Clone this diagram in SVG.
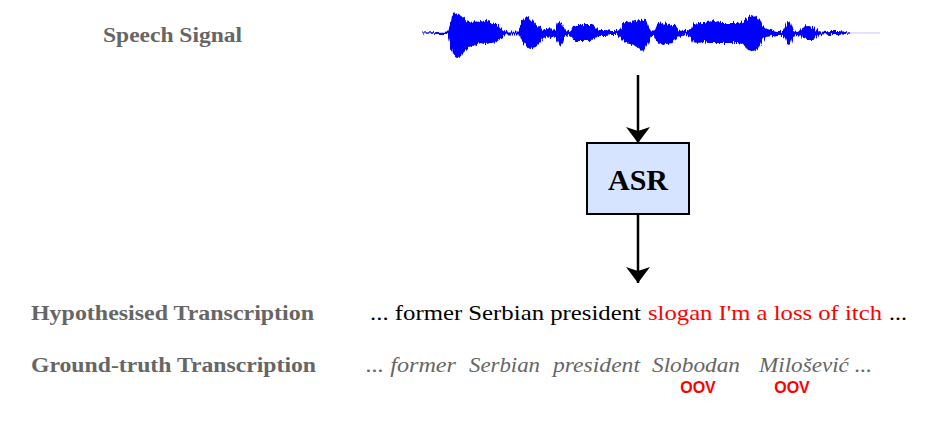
<svg xmlns="http://www.w3.org/2000/svg" width="933" height="432" viewBox="0 0 933 432">
  <defs>
    <marker id="arrowhead" viewBox="0 0 16 24" refX="16" refY="12" markerWidth="16" markerHeight="24" markerUnits="userSpaceOnUse" orient="auto">
      <path d="M0,0 L16,12 L0,24 L4,12 Z" fill="#000"/>
    </marker>
    <!-- roughen the waveform envelope into fine spikes -->
    <filter id="jagged" x="-5%" y="-40%" width="110%" height="180%">
      <feTurbulence type="fractalNoise" baseFrequency="0.9 0.02" numOctaves="2" seed="3" result="noise"/>
      <feDisplacementMap in="SourceGraphic" in2="noise" scale="6" xChannelSelector="R" yChannelSelector="G"/>
    </filter>
  </defs>
  <style>
    .label { font-family: "Liberation Serif", "DejaVu Serif", serif; font-weight: bold; font-size: 20px; fill: #666; }
    .oov { font-family: "Liberation Sans", "DejaVu Sans", sans-serif; font-weight: bold; font-size: 16px; fill: #ff0000; text-anchor: middle; }
    .edge { stroke: #000; stroke-width: 2.5; fill: none; }
  </style>
  <rect width="933" height="432" fill="#fff"/>

  <g id="speech-signal">
    <text class="label" x="103" y="42" textLength="139" lengthAdjust="spacingAndGlyphs">Speech Signal</text>
    <line x1="422" y1="33" x2="880" y2="33" stroke="#d8d8ff" stroke-width="1.5"/>
    <polygon fill="#0000ff" filter="url(#jagged)" points="422,32.5 440,32 448,31.5 450,26 452,15 455,13 458,14 461,17 463,16 466,20 469,21 472,22 475,20 478,23 481,21 484,22 487,20 490,21 493,23 496,24 499,26 502,29 505,31.5 518,31.5 520,28 522,22 525,18 527,16 530,18 533,21 536,25 540,27 543,29 547,29 551,28 553,30 556,29 558,23 560,22 562,24 564,30 568,31 571,30 573,26 577,25 584,25 591,25 595,27 598,30 601,30 606,30 611,31 616,31 620,29 622,25 625,23 630,22 636,21 640,20 643,19 646,21 648,27 651,31 654,30 656,25 658,22 662,23 667,24 672,25 676,26 678,29 682,31 686,31 688,30 691,29 693,24 698,23 703,23 708,22 713,21 716,21 720,23 726,23 732,23 738,23 742,22 745,20 748,17 752,15 755,16 758,18 761,21 763,26 766,29 772,30 778,31 783,31 785,27 787,22 789,21 791,24 793,30 797,31 802,29 804,27 808,26 812,27 816,28 818,31 825,32 828,31 832,31 840,31 845,32 850,32.5 850,33.5 845,34 840,35 832,35 828,35 825,34 818,35 816,38 812,40 808,40 804,39 802,37 797,35 793,36 791,43 789,45 787,44 785,38 783,35 778,35 772,36 766,37 763,40 761,44 758,48 755,52 752,51 748,50 745,45 742,44 738,43 732,43 726,43 720,43 716,43 713,43 708,43 703,42 698,43 693,42 691,37 688,36 686,35 682,36 678,37 676,40 672,43 667,44 662,45 658,43 656,40 654,36 651,36 648,43 646,47 643,52 640,49 636,46 630,44 625,43 622,40 620,37 616,35 611,35 606,36 601,36 598,36 595,39 591,41 584,41 577,41 573,40 571,36 568,35 564,37 562,43 560,46 558,43 556,38 553,36 551,38 547,37 543,38 540,42 536,46 533,48 530,49 527,47 525,45 522,41 520,38 518,34.5 505,34.5 502,38 499,40 496,42 493,43 490,43 487,44 484,44 481,43 478,44 475,45 472,46 469,47 466,50 463,53 461,56 458,58 455,57 452,53 450,42 448,34 440,34 422,33.5"/>
  </g>

  <g id="connectors">
    <line class="edge" x1="638" y1="75" x2="638" y2="143" marker-end="url(#arrowhead)"/>
    <line class="edge" x1="638" y1="214" x2="638" y2="283" marker-end="url(#arrowhead)"/>
  </g>

  <g id="asr">
    <rect x="587" y="143" width="102" height="71" fill="#d6e4ff" stroke="#000" stroke-width="2"/>
    <text x="638" y="190" text-anchor="middle" font-family="Liberation Serif, DejaVu Serif, serif" font-weight="bold" font-size="30" fill="#000">ASR</text>
  </g>

  <g id="hypothesised" font-family="Liberation Serif, DejaVu Serif, serif" font-size="21">
    <text class="label" x="31" y="320" textLength="283" lengthAdjust="spacingAndGlyphs">Hypothesised Transcription</text>
    <text x="370" y="320" fill="#000" textLength="271" lengthAdjust="spacingAndGlyphs">... former Serbian president</text>
    <text x="648" y="320" fill="#ff0000" textLength="234" lengthAdjust="spacingAndGlyphs">slogan I'm a loss of itch</text>
    <text x="889" y="320" fill="#000" textLength="18" lengthAdjust="spacingAndGlyphs">...</text>
  </g>

  <g id="ground-truth" font-family="Liberation Serif, DejaVu Serif, serif" font-size="21" font-style="italic" fill="#666">
    <text class="label" x="31" y="372" font-style="normal" textLength="285" lengthAdjust="spacingAndGlyphs">Ground-truth Transcription</text>
    <text x="366" y="372" textLength="90" lengthAdjust="spacingAndGlyphs">... former</text>
    <text x="469" y="372" textLength="71" lengthAdjust="spacingAndGlyphs">Serbian</text>
    <text x="553" y="372" textLength="87" lengthAdjust="spacingAndGlyphs">president</text>
    <text x="652" y="372" textLength="88" lengthAdjust="spacingAndGlyphs">Slobodan</text>
    <text x="759" y="372" textLength="113" lengthAdjust="spacingAndGlyphs">Milošević ...</text>
    <text class="oov" x="698" y="393" font-style="normal">OOV</text>
    <text class="oov" x="792" y="393" font-style="normal">OOV</text>
  </g>
</svg>
